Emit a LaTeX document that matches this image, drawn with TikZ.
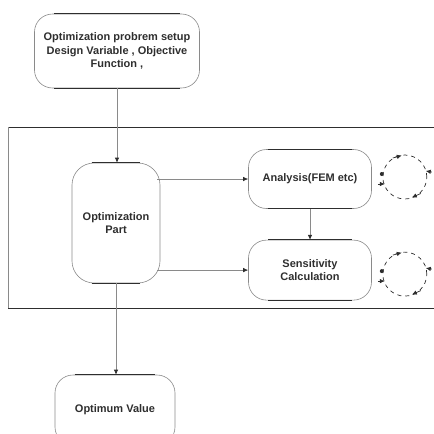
\documentclass[tikz,border=0pt]{standalone}
\usepackage{fontspec}
\setmainfont{Liberation Sans}
\usetikzlibrary{arrows.meta,positioning,calc}
\definecolor{ink}{HTML}{2E2E2E}
\definecolor{faint}{HTML}{8A8A8A}
\tikzset{
  flowbox/.style={draw=faint, line width=0.6pt, rounded corners=18pt, align=center,
                  inner sep=0pt, text=ink, font=\fontsize{11}{13.5}\selectfont\bfseries},
  rimline/.style={draw=ink, line width=0.8pt},
  sideline/.style={draw=faint, line width=0.6pt},
  arr/.style={-{Latex[length=5pt,width=4.5pt,color=ink]}, line width=0.7pt, color=faint},
  cyc/.style={draw=ink, line width=0.7pt, dash pattern=on 4pt off 4pt},
  cyctip/.style={-{Latex[length=5pt,width=4.5pt]}, line width=0.7pt, color=ink}}

\begin{document}
\begin{tikzpicture}[x=1pt, y=-1pt]
  \useasboundingbox (0,0) rectangle (434,434);
  % loop frame, open on the right
  \draw[rimline] (434,127) -- (8,127);
  \draw[rimline] (8,308) -- (434,308);
  \draw[sideline] (8,127) -- (8,308);

  \node[flowbox, minimum width=165pt, minimum height=74pt] (setup) at (117,51)
    {Optimization probrem setup\\Design Variable , Objective\\Function ,};
  \node[flowbox, minimum width=88pt, minimum height=120pt, rounded corners=22pt] (opt) at (116,223)
    {Optimization\\Part};
  \node[flowbox, minimum width=123pt, minimum height=59pt] (ana) at (310,179)
    {Analysis(FEM etc)};
  \node[flowbox, minimum width=123pt, minimum height=60pt, below=31pt of ana] (sens)
    {Sensitivity\\Calculation};
  \node[flowbox, minimum width=120pt, minimum height=70pt] (optv) at (115,410)
    {Optimum Value};

  % darker top and bottom rims
  \foreach \n in {setup,opt,ana,sens,optv} {
    \draw[rimline] ([xshift=20]\n.north west) -- ([xshift=-20]\n.north east);
    \draw[rimline] ([xshift=20]\n.south west) -- ([xshift=-20]\n.south east);
  }

  \draw[arr] (setup.south) -- (setup.south |- opt.north);
  \draw[arr] ([xshift=-3]opt.east |- ana) -- (ana.west);
  \draw[arr] ([xshift=-3]opt.east |- sens) -- (sens.west);
  \draw[arr] (ana.south) -- (sens.north);
  \draw[arr] (opt.south) -- (opt.south |- optv.north);

  % iteration marks
  \coordinate (acyc) at ([xshift=33pt, yshift=2pt]ana.east);
  \coordinate (scyc) at ([xshift=33pt, yshift=-4pt]sens.east);
  \foreach \c in {acyc,scyc} {
    \draw[cyc] (\c) circle[radius=22pt];
    \draw[cyctip] ($(\c)+(-12,-19)$) -- ($(\c)+(-3,-21.5)$);
    \draw[cyctip] ($(\c)+(27,-5)$) -- ($(\c)+(21,-6)$);
    \draw[cyctip] ($(\c)+(16,16.5)$) -- ($(\c)+(7,20.5)$);
    \draw[cyctip] ($(\c)+(-27,7)$) -- ($(\c)+(-20,7)$);
    \fill[ink] ($(\c)+(-23,-3)$) circle[radius=2pt];
  }
\end{tikzpicture}
\end{document}
